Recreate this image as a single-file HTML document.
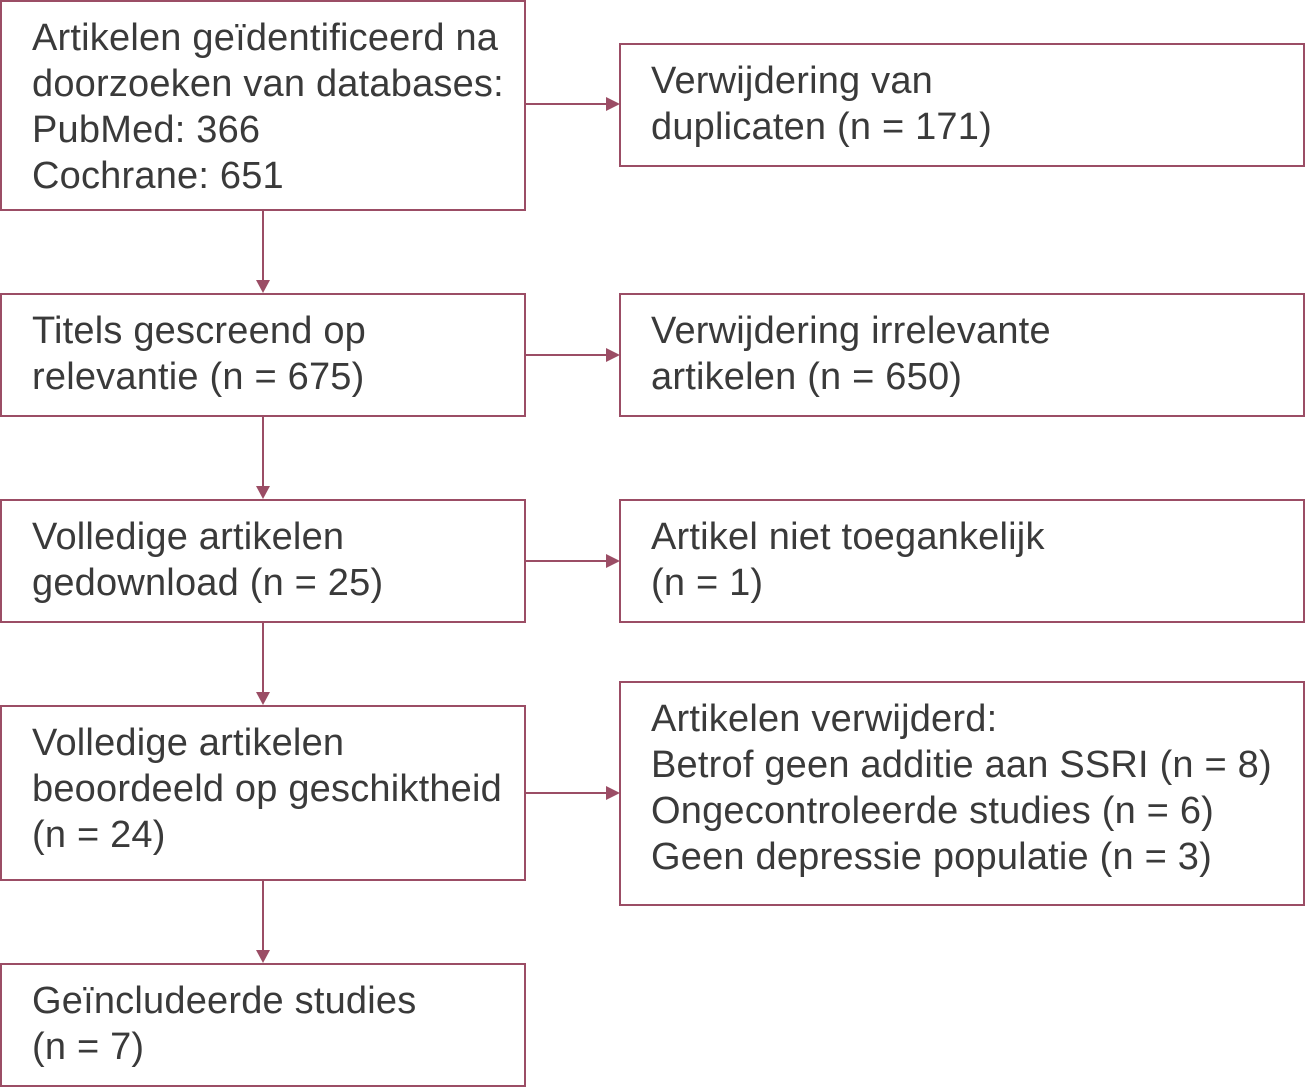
<!DOCTYPE html>
<html><head><meta charset="utf-8"><style>
body{margin:0;width:1305px;height:1087px;background:#fff;position:relative;overflow:hidden;font-family:"Liberation Sans",sans-serif;}
.b{position:absolute;box-sizing:border-box;border:2px solid #9b4d65;padding:13px 0 0 30px;font-size:38px;line-height:46px;color:#3a3a3a;letter-spacing:0.2px;white-space:nowrap;}
svg{position:absolute;left:0;top:0;}
</style></head><body>
<div class="b" style="left:0;top:0;width:526px;height:211px">Artikelen geïdentificeerd na<br>doorzoeken van databases:<br>PubMed: 366<br>Cochrane: 651</div>
<div class="b" style="left:619px;top:43px;width:686px;height:124px">Verwijdering van<br>duplicaten (n = 171)</div>
<div class="b" style="left:0;top:293px;width:526px;height:124px">Titels gescreend op<br>relevantie (n = 675)</div>
<div class="b" style="left:619px;top:293px;width:686px;height:124px">Verwijdering irrelevante<br>artikelen (n = 650)</div>
<div class="b" style="left:0;top:499px;width:526px;height:124px">Volledige artikelen<br>gedownload (n = 25)</div>
<div class="b" style="left:619px;top:499px;width:686px;height:124px">Artikel niet toegankelijk<br>(n = 1)</div>
<div class="b" style="left:0;top:705px;width:526px;height:176px">Volledige artikelen<br>beoordeeld op geschiktheid<br>(n = 24)</div>
<div class="b" style="left:619px;top:681px;width:686px;height:225px">Artikelen verwijderd:<br>Betrof geen additie aan SSRI (n = 8)<br>Ongecontroleerde studies (n = 6)<br>Geen depressie populatie (n = 3)</div>
<div class="b" style="left:0;top:963px;width:526px;height:124px">Geïncludeerde studies<br>(n = 7)</div>
<svg width="1305" height="1087">
<g stroke="#9b4d65" stroke-width="2" fill="none">
<line x1="263" y1="211" x2="263" y2="282"/>
<line x1="263" y1="417" x2="263" y2="487"/>
<line x1="263" y1="623" x2="263" y2="693"/>
<line x1="263" y1="881" x2="263" y2="951"/>
<line x1="526" y1="104" x2="608" y2="104"/>
<line x1="526" y1="355" x2="608" y2="355"/>
<line x1="526" y1="561" x2="608" y2="561"/>
<line x1="526" y1="793" x2="608" y2="793"/>
</g>
<g fill="#9b4d65">
<polygon points="256,280 270,280 263,293"/>
<polygon points="256,486 270,486 263,499"/>
<polygon points="256,692 270,692 263,705"/>
<polygon points="256,950 270,950 263,963"/>
<polygon points="606,97 606,111 620,104"/>
<polygon points="606,348 606,362 620,355"/>
<polygon points="606,554 606,568 620,561"/>
<polygon points="606,786 606,800 620,793"/>
</g>
</svg>
</body></html>
